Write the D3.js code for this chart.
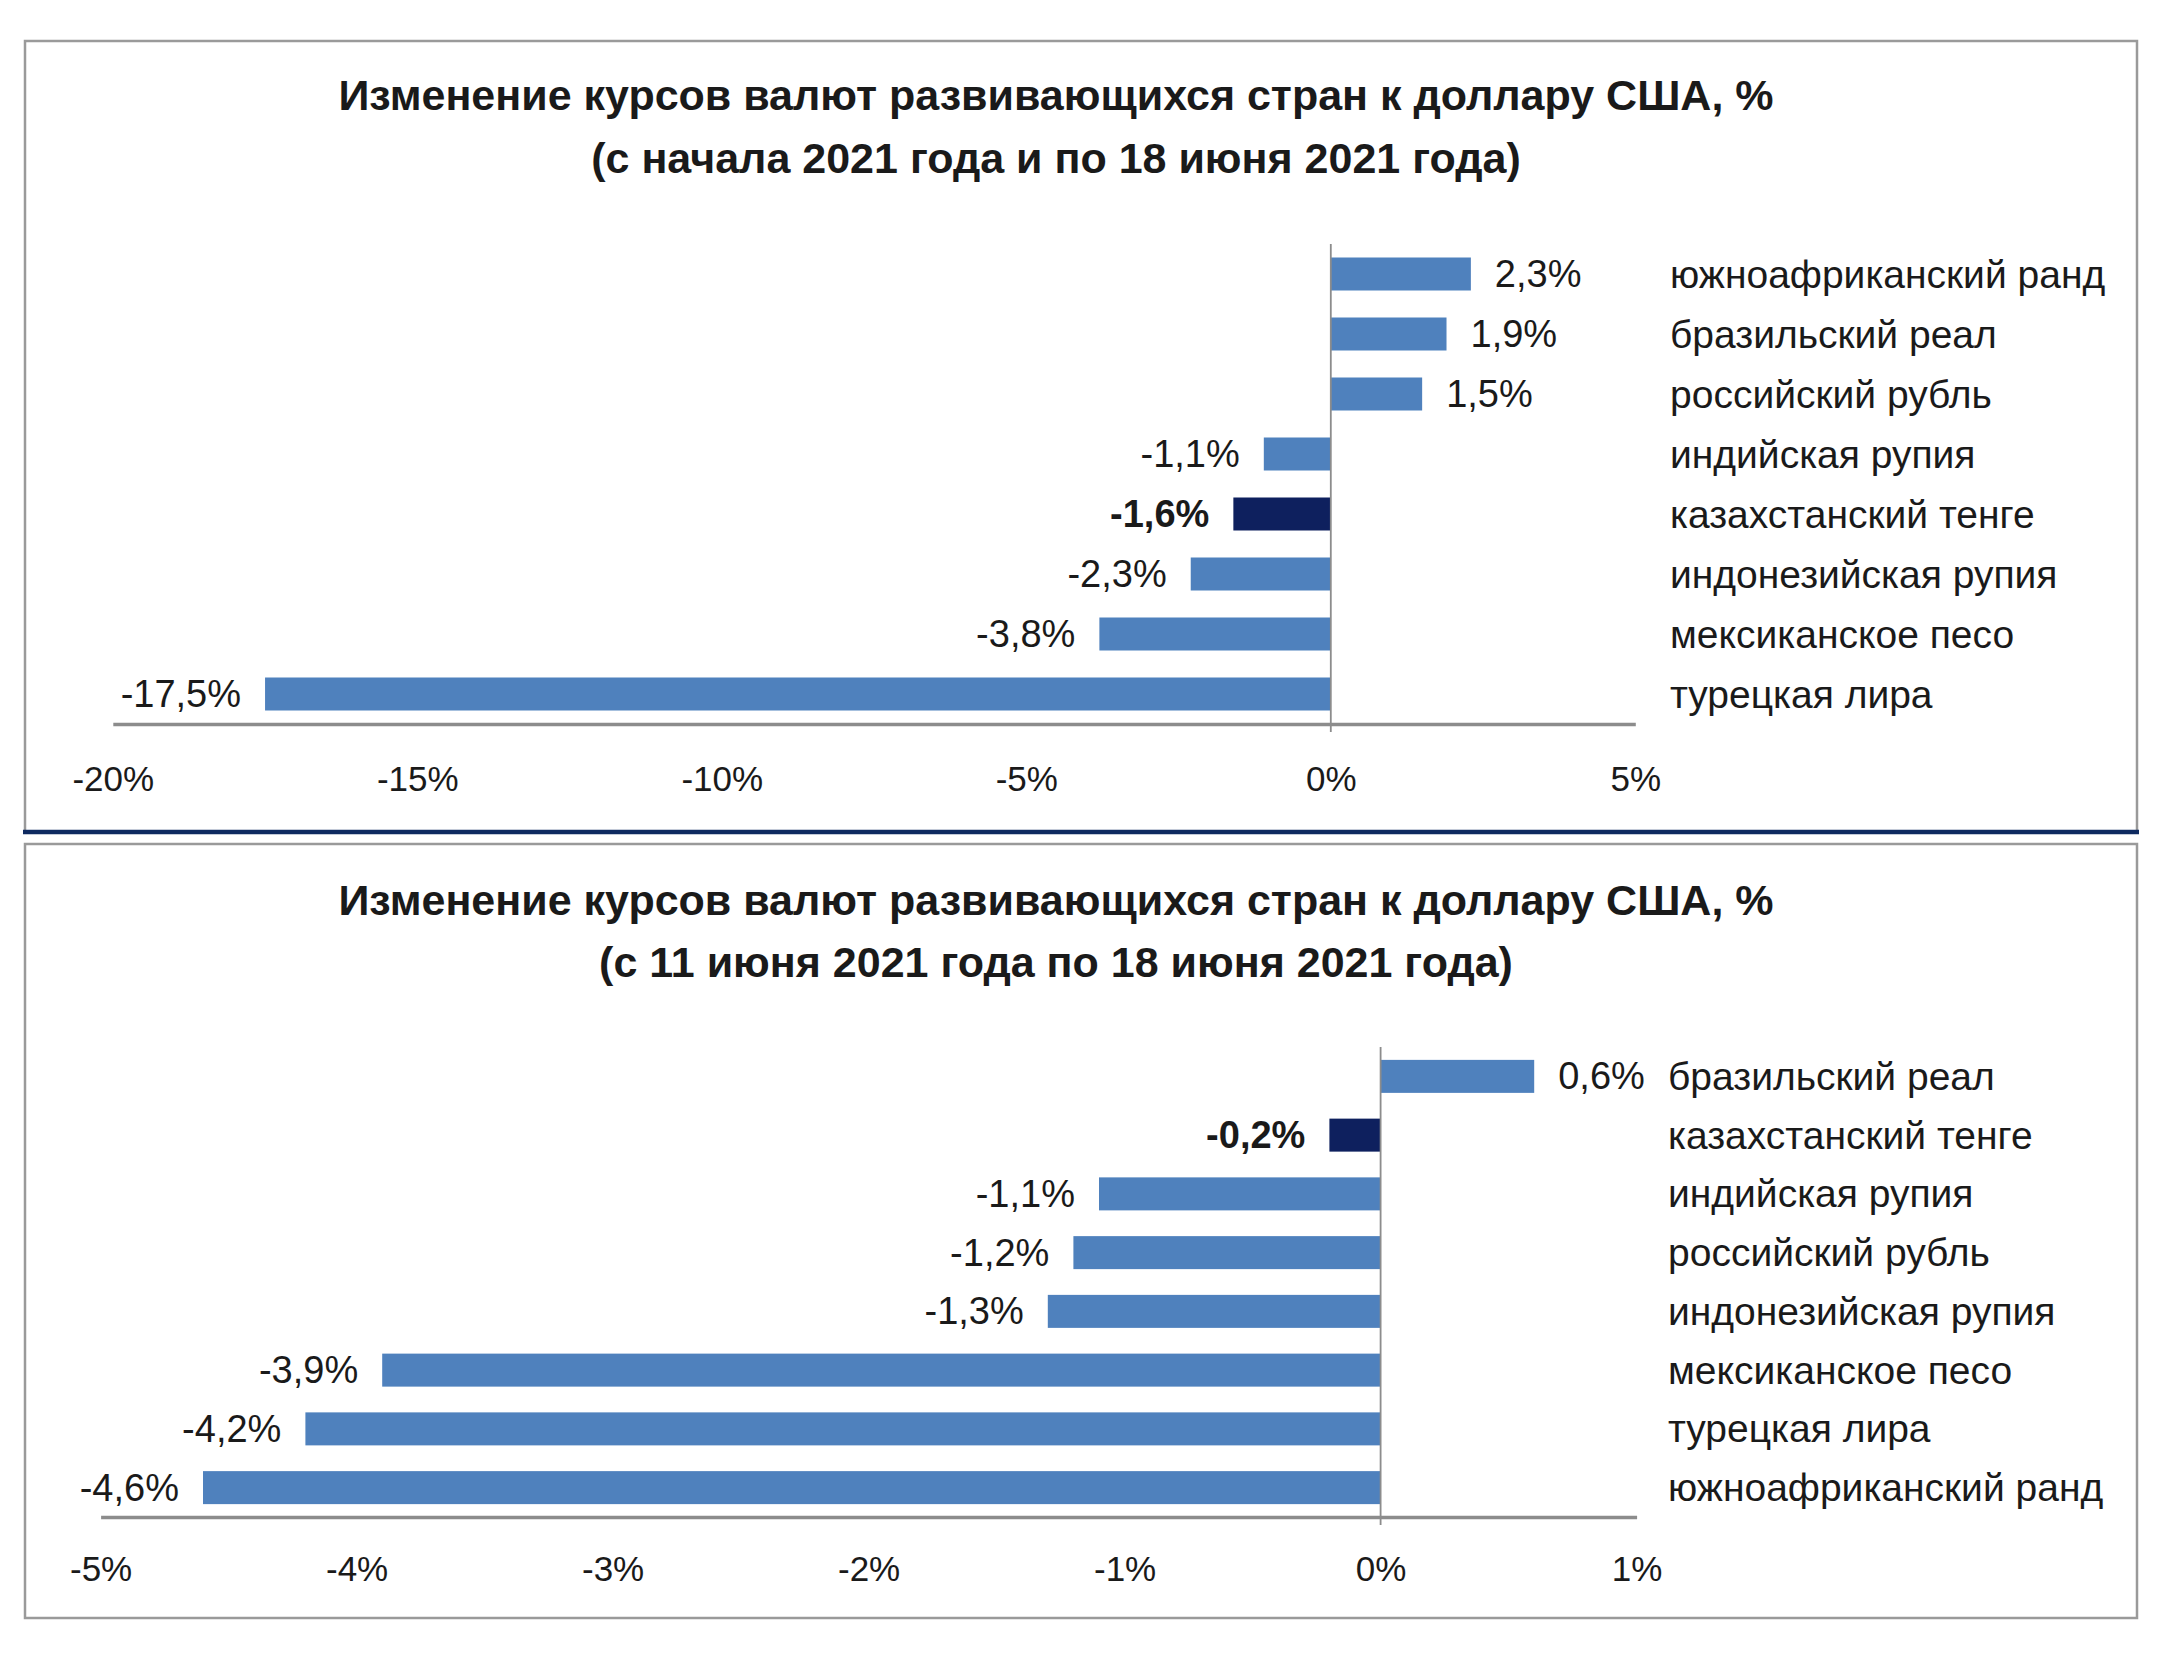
<!DOCTYPE html>
<html><head><meta charset="utf-8">
<script src="https://cdn.jsdelivr.net/npm/d3@7"></script>
<style>
body{margin:0;background:#fff}
text{font-family:"Liberation Sans", Arial, sans-serif; fill:#1a1a1a}
</style>
</head><body>
<svg id="c" width="2160" height="1654"></svg>
<script>
// ---- data ----
const titles1 = ["Изменение курсов валют развивающихся стран к доллару США, %",
                 "(с начала 2021 года и по 18 июня 2021 года)"];
const categories1 = ["южноафриканский ранд","бразильский реал","российский рубль","индийская рупия",
                     "казахстанский тенге","индонезийская рупия","мексиканское песо","турецкая лира"];
const values1 = [2.3, 1.9, 1.5, -1.1, -1.6, -2.3, -3.8, -17.5];
const ticks1 = [-20, -15, -10, -5, 0, 5];

const titles2 = ["Изменение курсов валют развивающихся стран к доллару США, %",
                 "(с 11 июня 2021 года по 18 июня 2021 года)"];
const categories2 = ["бразильский реал","казахстанский тенге","индийская рупия","российский рубль",
                     "индонезийская рупия","мексиканское песо","турецкая лира","южноафриканский ранд"];
const values2 = [0.6, -0.2, -1.1, -1.2, -1.3, -3.9, -4.2, -4.6];
const ticks2 = [-5, -4, -3, -2, -1, 0, 1];

const highlightCategory = "казахстанский тенге";

// ---- drawing ----
const svg = d3.select("#c");
const BLUE = "#4F81BD", NAVY = "#0E205E";
const fmt = v => String(v).replace(".", ",") + "%";

// frames
svg.append("rect").attr("x",25).attr("y",41).attr("width",2112).attr("height",791)
  .attr("fill","none").attr("stroke","#9a9a9a").attr("stroke-width",2.5);
svg.append("line").attr("x1",23).attr("x2",2139).attr("y1",832).attr("y2",832)
  .attr("stroke","#0E2A60").attr("stroke-width",4.5);
svg.append("rect").attr("x",25).attr("y",844).attr("width",2112).attr("height",774)
  .attr("fill","none").attr("stroke","#9a9a9a").attr("stroke-width",2.5);

function panel(cfg){
  const g = svg.append("g");
  // titles
  cfg.titles.forEach((t,i)=>{
    g.append("text").attr("x",1056).attr("y",cfg.titleY[i])
      .attr("text-anchor","middle").attr("dominant-baseline","central")
      .attr("font-size",43).attr("font-weight","bold").text(t);
  });
  const x = d3.scaleLinear().domain(cfg.domain).range(cfg.xRange);
  const band = d3.scaleBand().domain(cfg.categories).range(cfg.yRange);
  const data = cfg.categories.map((c,i)=>({c, v: cfg.values[i]}));

  // bars
  g.selectAll("rect.bar").data(data).join("rect").attr("class","bar")
    .attr("x", d => x(Math.min(0,d.v)))
    .attr("width", d => Math.abs(x(d.v)-x(0)))
    .attr("y", d => band(d.c) + band.bandwidth()/2 - 16.5)
    .attr("height", 33)
    .attr("fill", d => d.c === highlightCategory ? NAVY : BLUE);

  // zero line
  g.append("line").attr("x1",x(0)).attr("x2",x(0))
    .attr("y1",cfg.yRange[0]).attr("y2",cfg.yRange[1]+8)
    .attr("stroke","#8c8c8c").attr("stroke-width",1.8);

  // x axis
  const ax = g.append("g").attr("transform",`translate(0,${cfg.yRange[1]})`)
    .call(d3.axisBottom(x).tickValues(cfg.ticks).tickSize(0).tickSizeOuter(0).tickPadding(0).tickFormat(d=>d+"%"));
  ax.select(".domain").attr("stroke","#8c8c8c").attr("stroke-width",3.5);
  ax.selectAll("text").attr("font-size",35).attr("font-family",'"Liberation Sans", Arial, sans-serif')
    .attr("fill","#1a1a1a").attr("dy",null).attr("y",cfg.tickDy).attr("dominant-baseline","central");

  // value labels
  g.selectAll("text.val").data(data).join("text").attr("class","val")
    .attr("x", d => d.v >= 0 ? x(d.v) + 24 : x(d.v) - 24)
    .attr("y", d => band(d.c) + band.bandwidth()/2)
    .attr("text-anchor", d => d.v >= 0 ? "start" : "end")
    .attr("dominant-baseline","central")
    .attr("font-size",38)
    .attr("font-weight", d => d.c === highlightCategory ? "bold" : "normal")
    .text(d => fmt(d.v));

  // category labels
  g.selectAll("text.cat").data(data).join("text").attr("class","cat")
    .attr("x", cfg.catX)
    .attr("y", d => band(d.c) + band.bandwidth()/2)
    .attr("dominant-baseline","central")
    .attr("font-size",39)
    .text(d => d.c);
}

panel({titles:titles1, titleY:[95,158], categories:categories1, values:values1, ticks:ticks1,
       domain:[-20,5], xRange:[112.8,1635.3], yRange:[244,724], tickDy:54, catX:1670});
panel({titles:titles2, titleY:[900,962], categories:categories2, values:values2, ticks:ticks2,
       domain:[-5,1], xRange:[100.6,1636.6], yRange:[1047,1517], tickDy:51, catX:1668});
</script>
</body></html>
